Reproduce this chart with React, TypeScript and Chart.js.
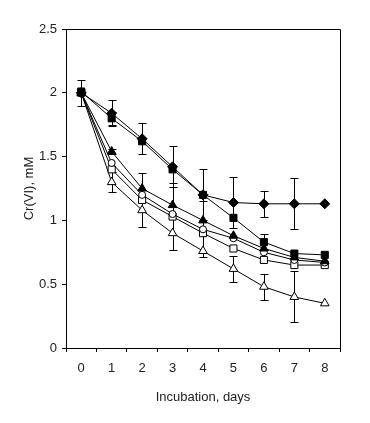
import React, { useEffect, useRef } from 'react';
import { Chart, registerables } from 'chart.js';

Chart.register(...registerables);

const days = ['0', '1', '2', '3', '4', '5', '6', '7', '8'];

const diamondFilled = [2.0, 1.84, 1.64, 1.42, 1.2, 1.14, 1.13, 1.13, 1.13];
const diamondFilledErr = [0.1, 0.1, 0.12, 0.16, 0.2, 0.2, 0.1, 0.2, null];

const squareFilled = [2.01, 1.8, 1.62, 1.4, 1.2, 1.02, 0.83, 0.74, 0.73];
const squareFilledErr = [null, 0.05, null, null, null, null, 0.06, null, null];

const triangleFilled = [2.0, 1.54, 1.25, 1.12, 1.0, 0.88, 0.78, 0.71, 0.68];
const triangleFilledErr = [null, 0.02, null, null, null, null, null, null, null];

const circleOpen = [2.0, 1.45, 1.2, 1.05, 0.93, 0.86, 0.75, 0.69, 0.67];
const circleOpenErr = [null, null, null, null, 0.22, null, null, null, null];

const squareOpen = [2.0, 1.4, 1.16, 1.03, 0.9, 0.78, 0.69, 0.65, 0.65];
const squareOpenErr = [null, null, 0.21, 0.26, null, null, null, null, null];

const triangleOpen = [2.0, 1.3, 1.08, 0.9, 0.76, 0.62, 0.48, 0.4, 0.35];
const triangleOpenErr = [null, 0.08, null, null, null, 0.1, 0.1, 0.2, null];

const yTickValues = [0, 0.5, 1, 1.5, 2, 2.5];

const FONT = '"Liberation Sans", Arial, sans-serif';
const TEXT = '#222';

export default function App() {
  const ref = useRef<HTMLCanvasElement>(null);

  useEffect(() => {
    document.body.style.margin = '0';
    const canvas = ref.current;
    if (!canvas) return;

    const errPlugin = {
      id: 'errbars',
      beforeDatasetsDraw(chart: any) {
        const ctx = chart.ctx;
        const xs = chart.scales.x;
        const ys = chart.scales.y;
        ctx.save();
        ctx.strokeStyle = '#000';
        ctx.lineWidth = 1;
        chart.data.datasets.forEach((ds: any) => {
          const errs = ds.errors;
          if (!errs) return;
          ds.data.forEach((v: number, i: number) => {
            const e = errs[i];
            if (e == null) return;
            const px = Math.round(xs.getPixelForValue(i)) + 0.5;
            const top = Math.round(ys.getPixelForValue(v + e)) + 0.5;
            const bot = Math.round(ys.getPixelForValue(v - e)) + 0.5;
            ctx.beginPath();
            ctx.moveTo(px, top);
            ctx.lineTo(px, bot);
            ctx.moveTo(px - 4, top);
            ctx.lineTo(px + 4, top);
            ctx.moveTo(px - 4, bot);
            ctx.lineTo(px + 4, bot);
            ctx.stroke();
          });
        });
        ctx.restore();
      },
      afterDraw(chart: any) {
        const { left, right, top, bottom } = chart.chartArea;
        const ctx = chart.ctx;
        ctx.save();
        ctx.strokeStyle = '#000';
        ctx.lineWidth = 1;
        ctx.beginPath();
        ctx.moveTo(Math.round(left) + 0.5, Math.round(bottom) + 0.5);
        ctx.lineTo(Math.round(left) + 0.5, Math.round(top) + 0.5);
        ctx.lineTo(Math.round(right) + 0.5, Math.round(top) + 0.5);
        ctx.lineTo(Math.round(right) + 0.5, Math.round(bottom) + 0.5);
        ctx.stroke();
        ctx.restore();
      },
    };

    const mk = (data: number[], errors: (number | null)[], style: string, filled: boolean, radius: number) => ({
      data,
      errors,
      borderColor: '#000',
      borderWidth: 1,
      pointStyle: style,
      pointRadius: radius,
      pointBackgroundColor: filled ? '#000' : '#fff',
      pointBorderColor: '#000',
      pointBorderWidth: 1,
      fill: false,
      tension: 0,
    });

    const chart = new Chart(canvas, {
      type: 'line',
      data: {
        labels: days,
        datasets: [
          mk(diamondFilled, diamondFilledErr, 'rectRot', true, 5),
          mk(squareFilled, squareFilledErr, 'rect', true, 5),
          mk(triangleFilled, triangleFilledErr, 'triangle', true, 5),
          mk(circleOpen, circleOpenErr, 'circle', false, 3.5),
          mk(squareOpen, squareOpenErr, 'rect', false, 5),
          mk(triangleOpen, triangleOpenErr, 'triangle', false, 5),
        ] as any,
      },
      options: {
        animation: false,
        responsive: false,
        maintainAspectRatio: false,
        layout: { padding: { top: 29, right: 30, left: 0, bottom: 0 } },
        plugins: {
          legend: { display: false },
          tooltip: { enabled: false },
        },
        scales: {
          x: {
            type: 'category',
            offset: true,
            grid: { offset: true, drawOnChartArea: false, tickLength: 4, color: '#000' },
            border: { color: '#000', width: 1 },
            ticks: { font: { family: FONT, size: 13 }, color: TEXT, padding: 9, maxRotation: 0 },
            title: {
              display: true,
              text: 'Incubation, days',
              font: { family: FONT, size: 13 },
              color: TEXT,
              padding: { top: 0, bottom: 18 },
            },
            afterFit: (s: any) => { s.height = 75; },
          },
          y: {
            min: 0,
            max: 2.5,
            grid: { drawOnChartArea: false, tickLength: 4, color: '#000' },
            border: { color: '#000', width: 1 },
            afterBuildTicks: (s: any) => { s.ticks = yTickValues.map((v) => ({ value: v })); },
            ticks: {
              font: { family: FONT, size: 13 },
              color: TEXT,
              padding: 5,
              callback: (v: any) => String(v),
            },
            title: {
              display: true,
              text: 'Cr(VI), mM',
              font: { family: FONT, size: 13 },
              color: TEXT,
              padding: { top: 22, bottom: 0 },
            },
            afterFit: (s: any) => { s.width = 66; },
          },
        },
      },
      plugins: [errPlugin],
    });

    return () => chart.destroy();
  }, []);

  return <canvas ref={ref} width={370} height={423} style={{ display: 'block' }} />;
}
